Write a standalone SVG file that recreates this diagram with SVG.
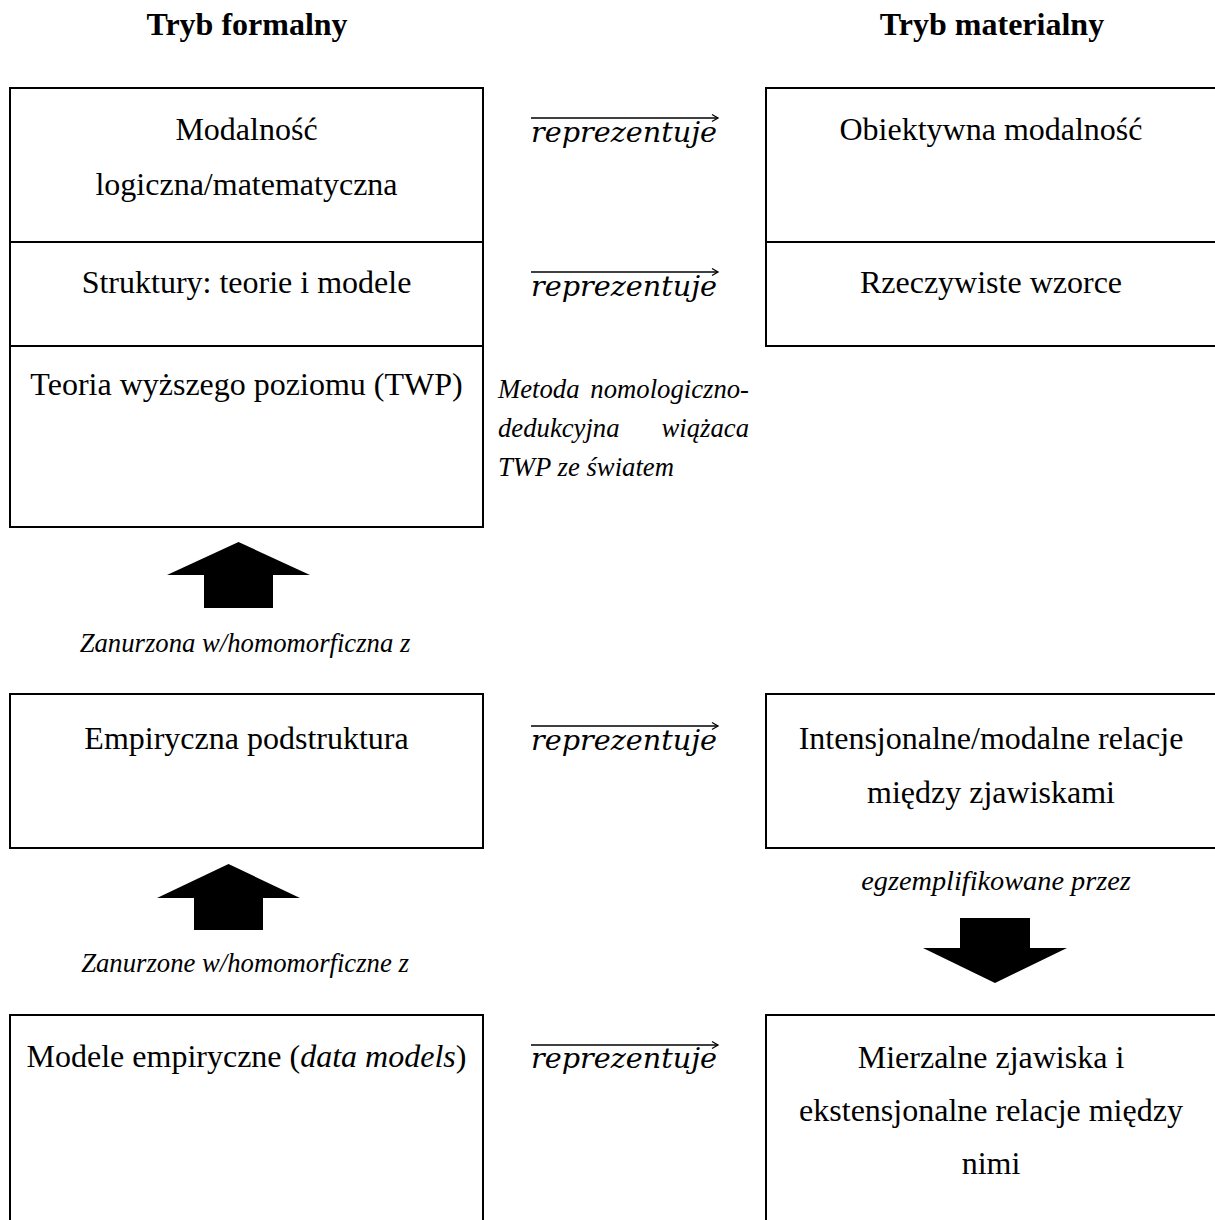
<svg xmlns="http://www.w3.org/2000/svg" width="1215" height="1220" viewBox="0 0 1215 1220">
<style>
.box{fill:none;stroke:#000;stroke-width:2}
.div{stroke:#000;stroke-width:2}
.t{font-family:"Liberation Serif","Times New Roman",serif;font-size:32px;fill:#000;text-anchor:middle}
.h{font-family:"Liberation Serif","Times New Roman",serif;font-size:32px;font-weight:bold;fill:#000;text-anchor:middle}
.i{font-family:"Liberation Serif","Times New Roman",serif;font-size:26.7px;font-style:italic;fill:#000}
.rep{font-family:"DejaVu Serif",serif;font-size:27px;font-style:italic;fill:#000}
.arr{stroke:#000;stroke-width:1.3;fill:none}
.blk{fill:#000;stroke:none}
</style>
<rect width="1215" height="1220" fill="#fff"/>
<g id="headers">
<text class="h" x="247" y="35">Tryb formalny</text>
<text class="h" x="992" y="35">Tryb materialny</text>
</g>
<g id="formal-top">
<rect class="box" x="10" y="88" width="473" height="439"/>
<line class="div" x1="10" y1="242" x2="483" y2="242"/>
<line class="div" x1="10" y1="346" x2="483" y2="346"/>
<text class="t" x="246.5" y="140">Modalność</text>
<text class="t" x="246.5" y="195">logiczna/matematyczna</text>
<text class="t" x="246.5" y="293">Struktury: teorie i modele</text>
<text class="t" x="246.5" y="395">Teoria wyższego poziomu (TWP)</text>
</g>
<g id="material-top">
<rect class="box" x="766" y="88" width="460" height="258"/>
<line class="div" x1="766" y1="242" x2="1216" y2="242"/>
<text class="t" x="991" y="140">Obiektywna modalność</text>
<text class="t" x="991" y="293">Rzeczywiste wzorce</text>
</g>
<g id="metoda">
<text class="i" x="498" y="398">Metoda</text>
<text class="i" x="749" y="398" text-anchor="end">nomologiczno-</text>
<text class="i" x="498" y="437">dedukcyjna</text>
<text class="i" x="749" y="437" text-anchor="end">wiążaca</text>
<text class="i" x="498" y="476">TWP ze światem</text>
</g>
<g id="empiryczna">
<rect class="box" x="10" y="694" width="473" height="154"/>
<text class="t" x="246.5" y="749">Empiryczna podstruktura</text>
</g>
<g id="intensjonalne">
<rect class="box" x="766" y="694" width="460" height="154"/>
<text class="t" x="991" y="749">Intensjonalne/modalne relacje</text>
<text class="t" x="991" y="803">między zjawiskami</text>
</g>
<g id="modele">
<rect class="box" x="10" y="1015" width="473" height="230"/>
<text class="t" x="246.5" y="1067">Modele empiryczne (<tspan font-style="italic">data models</tspan>)</text>
</g>
<g id="mierzalne">
<rect class="box" x="766" y="1015" width="460" height="230"/>
<text class="t" x="991" y="1068">Mierzalne zjawiska i</text>
<text class="t" x="991" y="1121">ekstensjonalne relacje między</text>
<text class="t" x="991" y="1174">nimi</text>
</g>
<g id="connectors">
<g id="rep1">
<line class="arr" x1="531" y1="118" x2="718" y2="118"/>
<path class="arr" d="M712,114.5 L718,118 L712,121.5"/>
<text class="rep" x="531" y="142" textLength="186" lengthAdjust="spacingAndGlyphs">reprezentuje</text>
</g>
<g id="rep2">
<line class="arr" x1="531" y1="272" x2="718" y2="272"/>
<path class="arr" d="M712,268.5 L718,272 L712,275.5"/>
<text class="rep" x="531" y="296" textLength="186" lengthAdjust="spacingAndGlyphs">reprezentuje</text>
</g>
<g id="rep3">
<line class="arr" x1="531" y1="726" x2="718" y2="726"/>
<path class="arr" d="M712,722.5 L718,726 L712,729.5"/>
<text class="rep" x="531" y="750" textLength="186" lengthAdjust="spacingAndGlyphs">reprezentuje</text>
</g>
<g id="rep4">
<line class="arr" x1="531" y1="1045" x2="718" y2="1045"/>
<path class="arr" d="M712,1041.5 L718,1045 L712,1048.5"/>
<text class="rep" x="531" y="1068" textLength="186" lengthAdjust="spacingAndGlyphs">reprezentuje</text>
</g>
<g id="up1">
<polygon class="blk" points="238.5,542 310,575 273,575 273,608 204,608 204,575 167,575"/>
<text class="i" x="245" y="652" text-anchor="middle">Zanurzona w/homomorficzna z</text>
</g>
<g id="up2">
<polygon class="blk" points="228.5,864 300,898 263,898 263,930 194,930 194,898 157,898"/>
<text class="i" x="245" y="972" text-anchor="middle">Zanurzone w/homomorficzne z</text>
</g>
<g id="down1">
<text class="i" x="996" y="890" text-anchor="middle" style="font-size:28.3px">egzemplifikowane przez</text>
<polygon class="blk" points="960,918 1030,918 1030,948 1067,948 995,983 923,948 960,948"/>
</g>
</g>
</svg>
